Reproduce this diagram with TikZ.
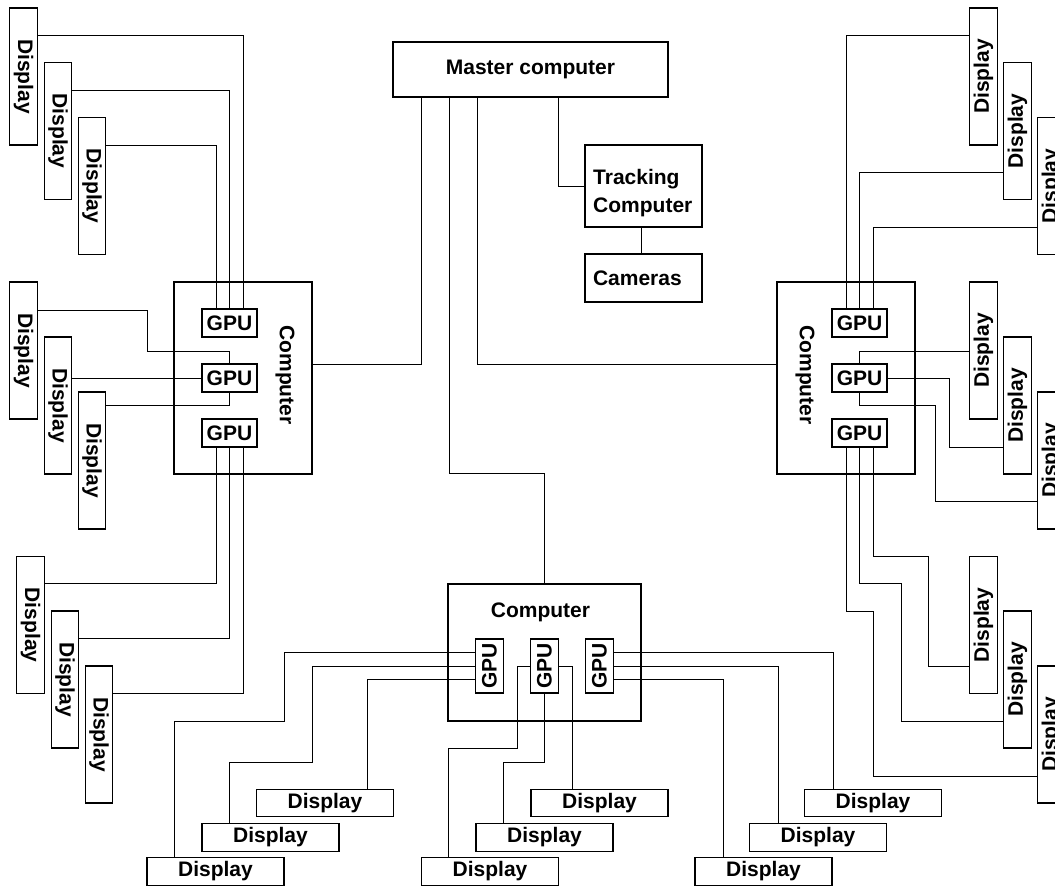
\documentclass[tikz,border=0pt]{standalone}
\usepackage{fontspec}
\setmainfont{Liberation Sans}
\usepackage{graphicx}
\begin{document}
\begin{tikzpicture}[x=1pt,y=-1pt,
  every node/.style={font=\fontsize{21}{28}\selectfont\bfseries},
  box/.style={draw, line width=1.2pt, inner sep=0pt},
  vdisp/.style={box, minimum width=27.5pt, minimum height=137pt},
  hdisp/.style={box, minimum width=137pt, minimum height=27.5pt},
  gpuh/.style={box, minimum width=55pt, minimum height=28pt},
  gpuv/.style={box, minimum width=27.5pt, minimum height=54pt},
  wire/.style={line width=1pt},
]
\useasboundingbox (0,0) rectangle (1055,886);
\clip (0,0) rectangle (1055,886);

% ---- master, tracking, cameras
\node[box, minimum width=275pt, minimum height=55pt] (M) at (530.5,69.5) {Master computer};
\node[box, minimum width=117pt, minimum height=82pt] (T) at (643.5,186) {};
\node[anchor=west, align=left, inner sep=0pt] (Tt) at (593,193) {Tracking\\Computer};
\node[box, minimum width=117pt, minimum height=48pt, align=left, text width=101pt, inner xsep=8pt] (C) at (643.5,278) {Cameras};

% ---- left computer
\node[box, minimum width=138pt, minimum height=192pt] (LC) at (243,378) {};
\node (LCt) at (285,375) {\rotatebox{-90}{Computer}};
\node[gpuh] (LG1) at (229.5,323) {GPU};
\node[gpuh] (LG2) at (229.5,378) {GPU};
\node[gpuh] (LG3) at (229.5,433) {GPU};

\node[vdisp] (L1) at (23.5,76.5) {\rotatebox{-90}{Display}};
\node[vdisp] (L2) at (58,131) {\rotatebox{-90}{Display}};
\node[vdisp] (L3) at (92,186) {\rotatebox{-90}{Display}};
\node[vdisp] (L4) at (23.5,350.5) {\rotatebox{-90}{Display}};
\node[vdisp] (L5) at (58,405.5) {\rotatebox{-90}{Display}};
\node[vdisp] (L6) at (92,460.5) {\rotatebox{-90}{Display}};
\node[vdisp] (L7) at (30.5,625) {\rotatebox{-90}{Display}};
\node[vdisp] (L8) at (65,679.5) {\rotatebox{-90}{Display}};
\node[vdisp] (L9) at (99,734.5) {\rotatebox{-90}{Display}};

% ---- right computer
\node[box, minimum width=138pt, minimum height=192pt] (RC) at (846,378) {};
\node (RCt) at (805,375) {\rotatebox{-90}{Computer}};
\node[gpuh] (RG1) at (859.5,323) {GPU};
\node[gpuh] (RG2) at (859.5,378) {GPU};
\node[gpuh] (RG3) at (859.5,433) {GPU};

\node[vdisp] (R1) at (983.5,76.5) {\rotatebox{90}{Display}};
\node[vdisp] (R2) at (1017.5,131) {\rotatebox{90}{Display}};
\node[vdisp] (R3) at (1051.5,186) {\rotatebox{90}{Display}};
\node[vdisp] (R4) at (983.5,350.5) {\rotatebox{90}{Display}};
\node[vdisp] (R5) at (1017.5,405.5) {\rotatebox{90}{Display}};
\node[vdisp] (R6) at (1051.5,460.5) {\rotatebox{90}{Display}};
\node[vdisp] (R7) at (983.5,625) {\rotatebox{90}{Display}};
\node[vdisp] (R8) at (1017.5,679.5) {\rotatebox{90}{Display}};
\node[vdisp] (R9) at (1051.5,734.5) {\rotatebox{90}{Display}};

% ---- bottom computer
\node[box, minimum width=193pt, minimum height=137pt] (BC) at (544.5,652.5) {};
\node[anchor=base] (BCt) at (540.5,617.5) {Computer};
\node[gpuv] (BG1) at (489.5,666) {\rotatebox{90}{GPU}};
\node[gpuv] (BG2) at (544.5,666) {\rotatebox{90}{GPU}};
\node[gpuv] (BG3) at (599.5,666) {\rotatebox{90}{GPU}};

\node[hdisp] (D1) at (325,803) {Display};
\node[hdisp] (D2) at (270.5,837.5) {Display};
\node[hdisp] (D3) at (215.5,871.5) {Display};
\node[hdisp] (D4) at (599.5,803) {Display};
\node[hdisp] (D5) at (544.5,837.5) {Display};
\node[hdisp] (D6) at (490,871.5) {Display};
\node[hdisp] (D7) at (873,803) {Display};
\node[hdisp] (D8) at (818,837.5) {Display};
\node[hdisp] (D9) at (763.5,871.5) {Display};

% ---- wires: master
\draw[wire] (LC.east |- 0,364) -| (M.south -| 421,0);
\draw[wire] (M.south -| 449,0) |- (BC.north |- 0,473) -- (BC.north);
\draw[wire] (M.south -| 477,0) |- (RC.west |- 0,364);
\draw[wire] (M.south -| 558,0) |- (T.west);
\draw[wire] ([xshift=-2.5pt]T.south) -- ([xshift=-2.5pt]C.north);

% ---- wires: left
\draw[wire] (L1.east |- 0,35) -| ([xshift=13.5pt]LG1.north);
\draw[wire] (L2.east |- 0,90) -| (LG1.north);
\draw[wire] (L3.east |- 0,145) -| ([xshift=-13.5pt]LG1.north);
\draw[wire] (L4.east |- 0,310) -| (147,351) -| (LG2.north);
\draw[wire] (L5.east |- LG2.west) -- (LG2.west);
\draw[wire] (L6.east |- 0,405) -| (LG2.south);
\draw[wire] ([xshift=-13.5pt]LG3.south) |- (L7.east |- 0,583);
\draw[wire] (LG3.south) |- (L8.east |- 0,638);
\draw[wire] ([xshift=13.5pt]LG3.south) |- (L9.east |- 0,693);

% ---- wires: right
\draw[wire] (R1.west |- 0,35) -| ([xshift=-13.5pt]RG1.north);
\draw[wire] (R2.west |- 0,172) -| (RG1.north);
\draw[wire] (R3.west |- 0,227) -| ([xshift=13.5pt]RG1.north);
\draw[wire] (R4.west |- 0,351) -| (RG2.north);
\draw[wire] (RG2.east) -| (949,447) -- (R5.west |- 0,447);
\draw[wire] (RG2.south) |- (935,405) |- (R6.west |- 0,501);
\draw[wire] ([xshift=13.5pt]RG3.south) |- (928,556) |- (R7.west |- 0,666);
\draw[wire] (RG3.south) |- (901,583) |- (R8.west |- 0,721);
\draw[wire] ([xshift=-13.5pt]RG3.south) |- (873,611) |- (R9.west |- 0,776);

% ---- wires: bottom
\draw[wire] (D1.north -| 367,0) |- (BG1.west |- 0,679);
\draw[wire] (D2.north -| 229,0) |- (312,762) |- (BG1.west);
\draw[wire] (D3.north -| 174,0) |- (284,721) |- (BG1.west |- 0,652);
\draw[wire] (D4.north -| 572,0) |- (BG2.east);
\draw[wire] (D5.north -| 503,0) |- (BG2.south |- 0,762) -- (BG2.south);
\draw[wire] (D6.north -| 448,0) |- (517,748) |- (BG2.west);
\draw[wire] (BG3.east |- 0,652) -| (D7.north -| 833,0);
\draw[wire] (BG3.east) -| (D8.north -| 778,0);
\draw[wire] (BG3.east |- 0,679) -| (D9.north -| 723,0);
\end{tikzpicture}
\end{document}
